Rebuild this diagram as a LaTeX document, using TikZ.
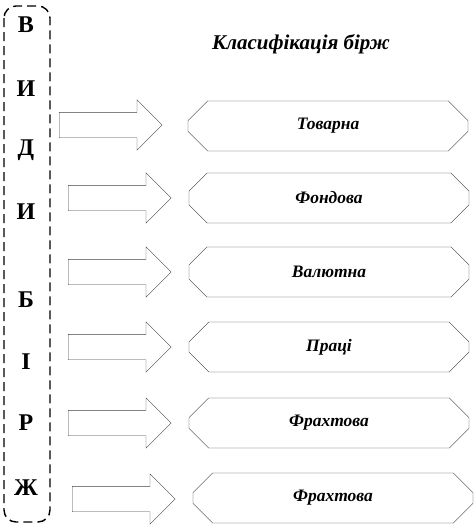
\documentclass[tikz,border=0pt]{standalone}
\usepackage{fontspec}
\setmainfont{Liberation Serif}
\usetikzlibrary{shapes.arrows,shapes.misc}

\begin{document}
\begin{tikzpicture}[
    x=1pt, y=-1pt,
    letter/.style={font=\fontsize{24}{24}\selectfont\bfseries, inner sep=0pt},
    kind/.style={chamfered rectangle, chamfered rectangle xsep=12pt, chamfered rectangle ysep=12pt, draw=black!80, thin, minimum width=280pt, minimum height=50pt, inner sep=0pt, font=\fontsize{17.5}{17.5}\selectfont\bfseries\itshape},
    barrow/.style={single arrow, draw=black!75, thin, inner xsep=0pt, inner ysep=12.5pt, single arrow head extend=12.5pt, single arrow head indent=0pt, minimum height=103pt, anchor=west}
]
\useasboundingbox (0,0) rectangle (476,528);

% --- frame with the letters ---
\draw[dash pattern=on 9pt off 5pt, line width=1.4pt, rounded corners=12pt] (4,6) rectangle (50,522);
\foreach \ch/\yy [count=\i] in {В/25, И/89, Д/150, И/212, Б/300, І/362, Р/423, Ж/488}
    \node[letter] (l\i) at (26,\yy) {\ch};

% --- title ---
\node[font=\fontsize{21}{21}\selectfont\bfseries\itshape] (title) at (301,44) {Класифікація бірж};

% --- block arrows ---
\node[barrow] (a1) at (59,125) {};
\node[barrow] (a2) at (68,198) {};
\node[barrow] (a3) at (68,272) {};
\node[barrow] (a4) at (68,347) {};
\node[barrow] (a5) at (68,423) {};
\node[barrow] (a6) at (72,499) {};

% --- kinds ---
\node[kind] (b1) at (328,126) {Товарна};
\node[kind] (b2) at (329,198) {Фондова};
\node[kind] (b3) at (329,272) {Валютна};
\node[kind] (b4) at (329,347) {Праці};
\node[kind] (b5) at (329,423) {Фрахтова};
\node[kind] (b6) at (333,498) {Фрахтова};

\end{tikzpicture}
\end{document}
